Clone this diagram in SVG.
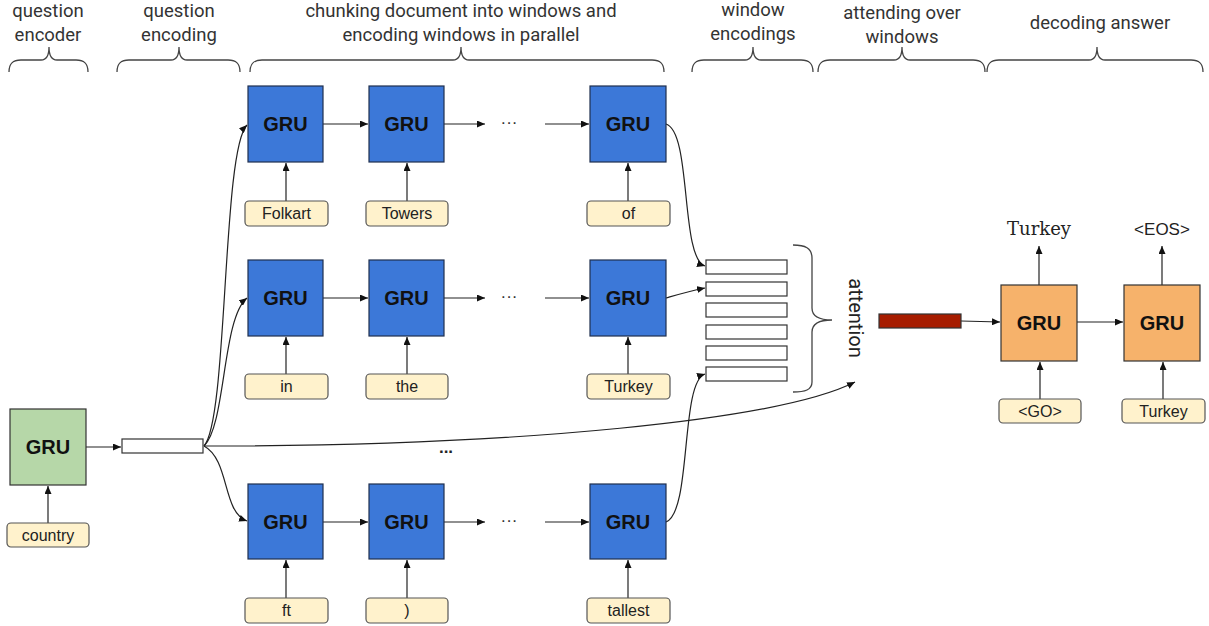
<svg xmlns="http://www.w3.org/2000/svg" width="1209" height="626" viewBox="0 0 1209 626">
<defs>
<marker id="ah" markerUnits="userSpaceOnUse" markerWidth="9" markerHeight="7" refX="8" refY="3.5" orient="auto">
<path d="M0,0 L8,3.5 L0,7 Z" fill="#111"/>
</marker>
<style>
.hdr{font-family:Roboto,"Liberation Sans",sans-serif;font-size:18.5px;fill:#333;text-anchor:middle}
.brace{fill:none;stroke:#444;stroke-width:1.3}
.blue{fill:#3c78d8;stroke:#1f2f4f;stroke-width:1.2}
.green{fill:#b6d7a8;stroke:#333;stroke-width:1.2}
.orange{fill:#f6b26b;stroke:#333;stroke-width:1.2}
.tok{fill:#fff2cc;stroke:#555;stroke-width:1.2}
.enc{fill:#fff;stroke:#333;stroke-width:1.2}
.gru{font-family:"Liberation Sans",Arial,sans-serif;font-size:20px;font-weight:bold;fill:#111;text-anchor:middle}
.tt{font-family:"Liberation Sans",Arial,sans-serif;font-size:16px;fill:#222;text-anchor:middle}
.ln{fill:none;stroke:#222;stroke-width:1.2;marker-end:url(#ah)}
.dots{font-family:"Liberation Sans",Arial,sans-serif;font-size:17px;fill:#333;text-anchor:middle}
</style>
</defs>
<rect width="1209" height="626" fill="#fff"/>

<g id="headers">
<text class="hdr" x="48" y="17">question</text>
<text class="hdr" x="48" y="41">encoder</text>
<text class="hdr" x="179" y="17">question</text>
<text class="hdr" x="179" y="41">encoding</text>
<text class="hdr" x="461" y="17">chunking document into windows and</text>
<text class="hdr" x="461" y="41">encoding windows in parallel</text>
<text class="hdr" x="753" y="16">window</text>
<text class="hdr" x="753" y="40">encodings</text>
<text class="hdr" x="902" y="19">attending over</text>
<text class="hdr" x="902" y="43">windows</text>
<text class="hdr" x="1100" y="29">decoding answer</text>
<path class="brace" d="M9,72 C9,64 12,60 21,60 L41,60 C46,60 49,56 49,47 C49,56 52,60 57,60 L76,60 C85,60 88,64 88,72"/>
<path class="brace" d="M117,72 C117,64 120,60 129,60 L171,60 C176,60 179,56 179,47 C179,56 182,60 187,60 L228,60 C237,60 240,64 240,72"/>
<path class="brace" d="M250,72 C250,64 253,60 262,60 L453,60 C458,60 461,56 461,47 C461,56 464,60 469,60 L652,60 C661,60 664,64 664,72"/>
<path class="brace" d="M692,72 C692,64 695,60 704,60 L745,60 C750,60 753,56 753,47 C753,56 756,60 761,60 L801,60 C810,60 813,64 813,72"/>
<path class="brace" d="M818,72 C818,64 821,60 830,60 L894,60 C899,60 902,56 902,47 C902,56 905,60 910,60 L973,60 C982,60 985,64 985,72"/>
<path class="brace" d="M987,72 C987,64 990,60 999,60 L1089,60 C1094,60 1097,56 1097,47 C1097,56 1100,60 1105,60 L1191,60 C1200,60 1203,64 1203,72"/>
</g>

<g id="connectors">
<line class="ln" x1="48" y1="523" x2="48" y2="486"/>
<line class="ln" x1="86" y1="447" x2="121" y2="447"/>
<path class="ln" d="M204,446 C228,420 222,150 247,125"/>
<path class="ln" d="M204,446 C226,425 222,318 247,298"/>
<path class="ln" d="M204,446 C230,460 222,512 247,521"/>
<path class="ln" d="M204,446 C520,446 780,420 855,382"/>
<line class="ln" x1="286" y1="201" x2="286" y2="163"/>
<line class="ln" x1="407" y1="201" x2="407" y2="163"/>
<line class="ln" x1="628" y1="201" x2="628" y2="163"/>
<line class="ln" x1="323" y1="124" x2="368" y2="124"/>
<line class="ln" x1="444" y1="124" x2="485" y2="124"/>
<line class="ln" x1="545" y1="124" x2="589" y2="124"/>
<path class="ln" d="M666,124 C692,132 680,258 705,266"/>
<line class="ln" x1="286" y1="374" x2="286" y2="337"/>
<line class="ln" x1="407" y1="374" x2="407" y2="337"/>
<line class="ln" x1="628" y1="374" x2="628" y2="337"/>
<line class="ln" x1="323" y1="298" x2="368" y2="298"/>
<line class="ln" x1="444" y1="298" x2="485" y2="298"/>
<line class="ln" x1="545" y1="298" x2="589" y2="298"/>
<path class="ln" d="M666,298 C680,294 690,291 705,288"/>
<line class="ln" x1="286" y1="598" x2="286" y2="560"/>
<line class="ln" x1="407" y1="598" x2="407" y2="560"/>
<line class="ln" x1="628" y1="598" x2="628" y2="560"/>
<line class="ln" x1="323" y1="522" x2="368" y2="522"/>
<line class="ln" x1="444" y1="522" x2="485" y2="522"/>
<line class="ln" x1="545" y1="522" x2="589" y2="522"/>
<path class="ln" d="M666,522 C692,512 680,382 705,374"/>
<line class="ln" x1="961" y1="321" x2="1000" y2="322"/>
<line class="ln" x1="1077" y1="322" x2="1123" y2="322"/>
<line class="ln" x1="1040" y1="399" x2="1040" y2="362"/>
<line class="ln" x1="1163" y1="399" x2="1163" y2="362"/>
<line class="ln" x1="1039" y1="285" x2="1039" y2="246"/>
<line class="ln" x1="1162" y1="285" x2="1162" y2="246"/>
</g>

<g id="question-encoder">
<rect class="green" x="10" y="409" width="76" height="76"/>
<text class="gru" x="48" y="454">GRU</text>
</g>
<g id="tok-country">
<rect class="tok" x="7" y="523" width="82" height="24" rx="4"/>
<text class="tt" x="48" y="541">country</text>
</g>
<g id="question-encoding">
<rect class="enc" x="122" y="439" width="81" height="14"/>
</g>
<text class="dots" x="446" y="453" style="font-weight:bold;fill:#222">...</text>

<g id="gru-r1-1"><rect class="blue" x="248" y="86" width="75" height="76"/><text class="gru" x="285.5" y="131">GRU</text></g>
<g id="gru-r1-2"><rect class="blue" x="369" y="86" width="75" height="76"/><text class="gru" x="406.5" y="131">GRU</text></g>
<g id="gru-r1-3"><rect class="blue" x="590" y="86" width="76" height="76"/><text class="gru" x="628" y="131">GRU</text></g>
<text class="dots" x="509" y="128">···</text>
<g id="tok-folkart"><rect class="tok" x="245" y="201" width="83" height="25" rx="4"/><text class="tt" x="286.5" y="219">Folkart</text></g>
<g id="tok-towers"><rect class="tok" x="366" y="201" width="82" height="25" rx="4"/><text class="tt" x="407" y="219">Towers</text></g>
<g id="tok-of"><rect class="tok" x="587" y="201" width="83" height="25" rx="4"/><text class="tt" x="628.5" y="219">of</text></g>

<g id="gru-r2-1"><rect class="blue" x="248" y="260" width="75" height="76"/><text class="gru" x="285.5" y="305">GRU</text></g>
<g id="gru-r2-2"><rect class="blue" x="369" y="260" width="75" height="76"/><text class="gru" x="406.5" y="305">GRU</text></g>
<g id="gru-r2-3"><rect class="blue" x="590" y="260" width="76" height="76"/><text class="gru" x="628" y="305">GRU</text></g>
<text class="dots" x="509" y="302">···</text>
<g id="tok-in"><rect class="tok" x="245" y="374" width="83" height="25" rx="4"/><text class="tt" x="286.5" y="392">in</text></g>
<g id="tok-the"><rect class="tok" x="366" y="374" width="82" height="25" rx="4"/><text class="tt" x="407" y="392">the</text></g>
<g id="tok-turkey"><rect class="tok" x="587" y="374" width="83" height="25" rx="4"/><text class="tt" x="628.5" y="392">Turkey</text></g>

<g id="gru-r3-1"><rect class="blue" x="248" y="484" width="75" height="75"/><text class="gru" x="285.5" y="529">GRU</text></g>
<g id="gru-r3-2"><rect class="blue" x="369" y="484" width="75" height="75"/><text class="gru" x="406.5" y="529">GRU</text></g>
<g id="gru-r3-3"><rect class="blue" x="590" y="484" width="76" height="75"/><text class="gru" x="628" y="529">GRU</text></g>
<text class="dots" x="509" y="526">···</text>
<g id="tok-ft"><rect class="tok" x="245" y="598" width="83" height="25" rx="4"/><text class="tt" x="286.5" y="616">ft</text></g>
<g id="tok-paren"><rect class="tok" x="366" y="598" width="82" height="25" rx="4"/><text class="tt" x="407" y="616">)</text></g>
<g id="tok-tallest"><rect class="tok" x="587" y="598" width="83" height="25" rx="4"/><text class="tt" x="628.5" y="616">tallest</text></g>

<g id="window-encodings">
<rect class="enc" x="706" y="260" width="81" height="14"/>
<rect class="enc" x="706" y="282" width="81" height="14"/>
<rect class="enc" x="706" y="303" width="81" height="14"/>
<rect class="enc" x="706" y="325" width="81" height="14"/>
<rect class="enc" x="706" y="346" width="81" height="14"/>
<rect class="enc" x="706" y="367" width="81" height="14"/>
</g>

<g id="attention">
<path class="brace" d="M793,245 C805,245 812,248 812,258 L812,308 C812,316 818,320 832,320 C818,320 812,324 812,332 L812,382 C812,390 805,392 793,392"/>
<text x="849" y="318" transform="rotate(90 849 318)" style="font-family:Roboto,'Liberation Sans',sans-serif;font-size:20px;fill:#222;text-anchor:middle">attention</text>
</g>

<g id="context-vector">
<rect x="879" y="314" width="82" height="14" fill="#a61c00" stroke="#333" stroke-width="1.2"/>
</g>

<g id="decoder-1">
<rect class="orange" x="1001" y="285" width="76" height="76"/>
<text class="gru" x="1039" y="330">GRU</text>
</g>
<g id="decoder-2">
<rect class="orange" x="1124" y="285" width="76" height="76"/>
<text class="gru" x="1162" y="330">GRU</text>
</g>
<g id="tok-go"><rect class="tok" x="999" y="399" width="82" height="24" rx="4"/><text class="tt" x="1040" y="417">&lt;GO&gt;</text></g>
<g id="tok-turkey-dec"><rect class="tok" x="1122" y="399" width="83" height="24" rx="4"/><text class="tt" x="1163.5" y="417">Turkey</text></g>
<g id="out-turkey"><text x="1039" y="235" style="font-family:'DejaVu Serif','Liberation Serif',serif;font-size:18px;fill:#222;text-anchor:middle">Turkey</text></g>
<g id="out-eos"><text x="1162" y="235" style="font-family:'Liberation Sans',Arial,sans-serif;font-size:17px;fill:#222;text-anchor:middle">&lt;EOS&gt;</text></g>
</svg>
